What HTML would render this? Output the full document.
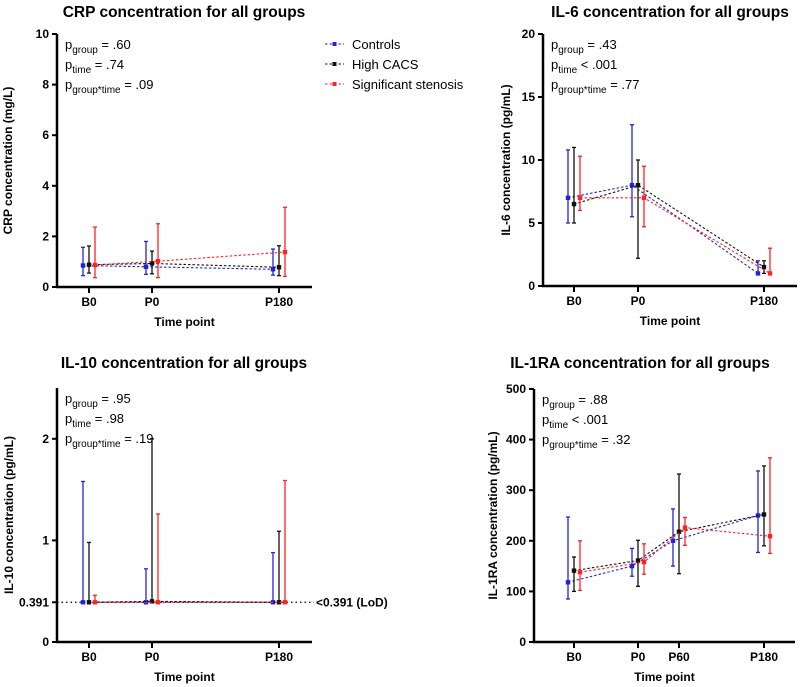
<!DOCTYPE html>
<html><head><meta charset="utf-8"><style>
body{margin:0;background:#fff;}
svg{display:block;font-family:"Liberation Sans",Arial,sans-serif;}
.t{font-weight:bold;font-size:15.5px;}
.tk{font-weight:bold;font-size:12px;}
.p{font-size:13px;}
</style></head><body>
<svg id="fig" width="800" height="687" viewBox="0 0 800 687"></svg>
<script>
const timesA = ["B0","P0","P180"];
const timesB = ["B0","P0","P60","P180"];
const groups = ["Controls","High CACS","Significant stenosis"];
const colors = ["#2222dd","#111111","#ff2222"];
// CRP
const crpMean = [[0.85,0.8,0.7],[0.88,0.93,0.78],[0.87,1.02,1.38]];
const crpLo = [[0.45,0.5,0.47],[0.55,0.52,0.45],[0.37,0.37,0.42]];
const crpHi = [[1.57,1.8,1.5],[1.62,1.42,1.63],[2.37,2.5,3.15]];
// IL-6
const il6Mean = [[7,8,1],[6.5,8,1.5],[7,7,1]];
const il6Lo = [[5,5.5,1],[5,2.2,1],[6,4.7,1]];
const il6Hi = [[10.8,12.8,2],[11,10,2],[10.3,9.5,3]];
// IL-10
const il10Mean = [[0.391,0.391,0.391],[0.391,0.40,0.391],[0.391,0.391,0.391]];
const il10Lo = [[0.391,0.391,0.391],[0.391,0.391,0.391],[0.391,0.391,0.391]];
const il10Hi = [[1.58,0.72,0.88],[0.98,2.0,1.09],[0.46,1.26,1.59]];
// IL-1RA
const raMean = [[118,150,200,250],[141,161,218,252],[138,158,226,209]];
const raLo = [[85,130,150,177],[100,110,135,190],[102,134,191,175]];
const raHi = [[247,185,263,338],[168,201,332,348],[200,194,246,364]];

const svg = document.getElementById('fig');
const NS = "http://www.w3.org/2000/svg";
function mk(tag, attrs, parent, text){
  const e = document.createElementNS(NS, tag);
  for (const k in attrs) e.setAttribute(k, attrs[k]);
  if (text !== undefined) e.textContent = text;
  (parent||svg).appendChild(e);
  return e;
}
function pText(g, x, y, lines){
  lines.forEach((l,i)=>{
    const t = mk('text',{x:x,y:y+i*20,class:'p'},g);
    
    
    mk('tspan',{},t,'p');
    mk('tspan',{'font-size':'10','dy':'4'},t,l[0]);
    mk('tspan',{'dy':'-4'},t,' '+l[1]);
  });
}
function chart(cfg){
  const g = mk('g',{});
  
  
  const yS = v => cfg.y0 - (v - 0)/(cfg.ymax) * (cfg.y0 - cfg.yTop);
  const t = mk('text',{x:cfg.tx,y:cfg.ty,class:'t','text-anchor':'middle'},g,cfg.title);
   
  const ya = mk('line',{x1:cfg.ax,y1:cfg.yTop,x2:cfg.ax,y2:cfg.y0+1,stroke:'#000','stroke-width':2.5},g);
   
  const xa = mk('line',{x1:cfg.ax-1,y1:cfg.y0,x2:cfg.xEnd,y2:cfg.y0,stroke:'#000','stroke-width':2.5},g);
   
  cfg.yTicks.forEach((v,i)=>{
    const y = yS(v);
    mk('line',{x1:cfg.ax-5,y1:y,x2:cfg.ax,y2:y,stroke:'#000','stroke-width':2},g);
    const tl = mk('text',{x:cfg.ax-8,y:y+4,class:'tk','text-anchor':'end'},g,cfg.yLabels[i]);
     
  });
  cfg.cats.forEach((c,i)=>{
    const x = cfg.xs[i];
    mk('line',{x1:x,y1:cfg.y0,x2:x,y2:cfg.y0+6,stroke:'#000','stroke-width':2},g);
    const tl = mk('text',{x:x,y:cfg.y0+19,class:'tk','text-anchor':'middle'},g,c);
     
  });
  const xt = mk('text',{x:(cfg.ax+cfg.xEnd)/2,y:cfg.y0+39,class:'tk','text-anchor':'middle','font-size':'13.5'},g,'Time point');
   
  const cy = (cfg.yTop+cfg.y0)/2;
  const yx = cfg.ytx;
  const yt = mk('text',{x:yx,y:cy,class:'tk','text-anchor':'middle','font-size':'13.5',transform:`rotate(-90 ${yx} ${cy})`},g,cfg.ytitle);
   
  if (cfg.lod!==undefined){
    const y = yS(cfg.lod);
    const l = mk('line',{x1:cfg.ax,y1:y,x2:cfg.xEnd+2,y2:y,stroke:'#000','stroke-width':1.2,'stroke-dasharray':'1.5,3'},g);
     
    const lt = mk('text',{x:cfg.xEnd+4,y:y+4,class:'tk'},g,'<0.391 (LoD)');
     
  }
  const offs=[-6,0,6];
  cfg.mean.forEach((ser,gi)=>{
    const sg = mk('g',{},g);
    
    
    const pts = ser.map((v,i)=>[cfg.xs[i]+offs[gi], yS(v)]);
    mk('polyline',{points:pts.map(p=>p.join(',')).join(' '),fill:'none',stroke:colors[gi],'stroke-width':1.1,'stroke-dasharray':'2.5,2'},sg);
    ser.forEach((v,i)=>{
      const x = pts[i][0];
      const eb = mk('g',{},sg);
       
      const lo=yS(cfg.lo[gi][i]), hi=yS(cfg.hi[gi][i]);
      mk('line',{x1:x,y1:lo,x2:x,y2:hi,stroke:colors[gi],'stroke-width':1.3},eb);
      mk('line',{x1:x-2,y1:lo,x2:x+2,y2:lo,stroke:colors[gi],'stroke-width':1.3},eb);
      mk('line',{x1:x-2,y1:hi,x2:x+2,y2:hi,stroke:colors[gi],'stroke-width':1.3},eb);
      const m = mk('rect',{x:x-2.2,y:pts[i][1]-2.2,width:4.4,height:4.4,fill:colors[gi]},sg);
       
    });
  });
  pText(g, cfg.ax+8, cfg.yTop+15, cfg.p);
}
chart({name:'crp-chart',title:'CRP concentration for all groups',tx:184,ty:17,ax:57,xEnd:312,yTop:34,y0:287,ymax:10,ytx:12,
  yTicks:[0,2,4,6,8,10],yLabels:['0','2','4','6','8','10'],cats:timesA,xs:[89,152,279],
  ytitle:'CRP concentration (mg/L)',mean:crpMean,lo:crpLo,hi:crpHi,
  p:[['group','= .60'],['time','= .74'],['group*time','= .09']]});
chart({name:'il6-chart',title:'IL-6 concentration for all groups',tx:670,ty:17,ax:543,xEnd:797,yTop:34,y0:286,ymax:20,ytx:510,
  yTicks:[0,5,10,15,20],yLabels:['0','5','10','15','20'],cats:timesA,xs:[574,638,764],
  ytitle:'IL-6 concentration (pg/mL)',mean:il6Mean,lo:il6Lo,hi:il6Hi,
  p:[['group','= .43'],['time','< .001'],['group*time','= .77']]});
chart({name:'il10-chart',title:'IL-10 concentration for all groups',tx:184,ty:368,ax:57,xEnd:312,yTop:388,y0:642,ymax:2.5,ytx:13,
  yTicks:[0,0.391,1,2],yLabels:['0','0.391','1','2'],cats:timesA,xs:[89,152,279],lod:0.391,
  ytitle:'IL-10 concentration (pg/mL)',mean:il10Mean,lo:il10Lo,hi:il10Hi,
  p:[['group','= .95'],['time','= .98'],['group*time','= .19']]});
chart({name:'il1ra-chart',title:'IL-1RA concentration for all groups',tx:640,ty:368,ax:534,xEnd:795,yTop:389,y0:642,ymax:500,ytx:497,
  yTicks:[0,100,200,300,400,500],yLabels:['0','100','200','300','400','500'],cats:timesB,xs:[574,638,679,764],
  ytitle:'IL-1RA concentration (pg/mL)',mean:raMean,lo:raLo,hi:raHi,
  p:[['group','= .88'],['time','< .001'],['group*time','= .32']]});
const lg = mk('g',{});
 
groups.forEach((n,i)=>{
  const y = 44+i*20;
  const e = mk('g',{},lg);
   
  mk('line',{x1:325,y1:y,x2:344,y2:y,stroke:colors[i],'stroke-width':1.1,'stroke-dasharray':'2.5,2'},e);
  mk('rect',{x:332.5,y:y-2,width:4,height:4,fill:colors[i]},e);
  mk('text',{x:352,y:y+5,'font-size':'13'},e,n);
});
</script>
</body></html>
